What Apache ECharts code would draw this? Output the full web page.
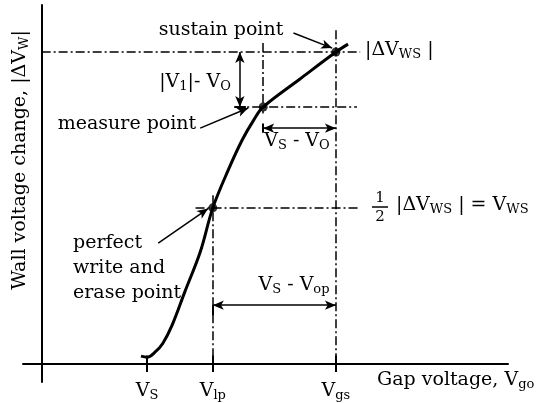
<!DOCTYPE html>
<html>
<head>
<meta charset="utf-8">
<script src="https://cdn.jsdelivr.net/npm/echarts@6/dist/echarts.min.js"></script>
<style>
  html, body { margin: 0; background: #fff; }
  #chart { width: 551px; height: 403px; }
</style>
</head>
<body>
<div id="chart"></div>
<script>
// wall voltage change vs gap voltage (arbitrary units)
const gapVoltage  = [21.3, 22.6, 24.3, 26.0, 28.0, 30.7, 34.0, 36.7, 40.0, 43.0, 45.5, 47.5, 55.4, 63.1, 65.7];
const wallVoltage = [2.2, 1.9, 3.3, 5.8, 10.9, 20.1, 31.2, 43.5, 54.0, 62.4, 68.0, 71.6, 79.4, 86.9, 89.1];

// marked points: sustain, measure, perfect write/erase
const pointGap  = [63.1, 47.5, 36.7];
const pointWall = [86.9, 71.6, 43.5];

// x axis ticks (subscripts of V)
const tickSubs   = ['S', 'lp', 'gs'];
const tickValues = [22.6, 36.7, 63.1];

const font = 'DejaVu Serif';
const rich = {
    n: { fontFamily: font, fontSize: 19, lineHeight: 22, color: '#000' },
    s: { fontFamily: font, fontSize: 13, lineHeight: 22, padding: [10, 0, 0, 0], color: '#000' }
};

const [xS, xM, xP] = pointGap;
const [yS, yM, yP] = pointWall;
const seg = (a, b) => [{ coord: a }, { coord: b }];

// dash-dot guide lines
const guides = [
    seg([0, yS], [68.3, yS]),
    seg([41.5, yM], [67.6, yM]),
    seg([33.0, yP], [68.3, yP]),
    seg([xM, 89.4], [xM, 69.8]),
    seg([xS, 93.0], [xS, 0]),
    seg([xP, 47.0], [xP, 0])
];
// dimension arrows
const dims = [
    seg([42.5, yS], [42.5, yM]),
    seg([xM, 65.7], [xS, 65.7]),
    seg([xP, 16.4], [xS, 16.4])
];
// small end ticks of dimension arrows + upper half of axis ticks
const endTicks = [
    seg([41.3, yM], [43.8, yM]),
    seg([xM, 64.4], [xM, 67.0]),
    seg([xP, 16.4], [xP, 13.6])
].concat(tickValues.map(v => seg([v, 0], [v, 2.4])));
// pointer arrows from labels to points
const pointers = [
    seg([54.0, 92.2], [62.3, 88.0]),
    seg([34.0, 65.7], [44.3, 71.3]),
    seg([25.0, 33.7], [35.7, 43.3])
];

const markSeries = (data, symbol, type, width) => ({
    type: 'line',
    data: [],
    silent: true,
    markLine: {
        silent: true,
        animation: false,
        symbol: symbol,
        symbolSize: [7, 11],
        label: { show: false },
        emphasis: { disabled: true },
        lineStyle: { color: '#000', width: width, type: type },
        data: data
    }
});

const txt = (x, y, text, align, extra) => Object.assign({
    type: 'text',
    x: x, y: y,
    silent: true,
    style: {
        text: text, rich: rich,
        align: align || 'left', verticalAlign: 'middle',
        fill: '#000', font: '19px "' + font + '"'
    }
}, extra || {});

const small = (x, y, t) => ({
    type: 'text', x: x, y: y, silent: true,
    style: { text: t, fontFamily: font, fontSize: 15, fill: '#000', align: 'center', verticalAlign: 'middle' }
});

const chart = echarts.init(document.getElementById('chart'));
chart.setOption({
    animation: false,
    backgroundColor: '#fff',
    grid: { left: 23, right: 43, top: 5, bottom: 21, containLabel: false, outerBoundsMode: 'none' },
    xAxis: {
        type: 'value', min: -4, max: 100,
        axisLine: { onZero: true, lineStyle: { color: '#000', width: 2 } },
        axisTick: { show: true, customValues: tickValues, length: 8, lineStyle: { color: '#000', width: 2 } },
        axisLabel: {
            show: true, customValues: tickValues, margin: -2,
            formatter: v => '{n|V}{s|' + tickSubs[tickValues.indexOf(v)] + '}',
            rich: rich
        },
        splitLine: { show: false }
    },
    yAxis: {
        type: 'value', min: -5, max: 100,
        axisLine: { show: true, onZero: true, lineStyle: { color: '#000', width: 2 } },
        axisTick: { show: false },
        axisLabel: { show: false },
        splitLine: { show: false }
    },
    series: [
        {
            type: 'line',
            data: gapVoltage.map((x, i) => [x, wallVoltage[i]]),
            smooth: 0.35,
            symbol: 'none',
            silent: true,
            lineStyle: { color: '#000', width: 3 }
        },
        {
            type: 'scatter',
            data: pointGap.map((x, i) => [x, pointWall[i]]),
            symbolSize: 9,
            silent: true,
            itemStyle: { color: '#000' }
        },
        markSeries(guides, 'none', [9, 3, 2, 3], 1.5),
        markSeries(dims, ['arrow', 'arrow'], 'solid', 1.5),
        markSeries(endTicks, 'none', 'solid', 2),
        markSeries(pointers, ['none', 'arrow'], 'solid', 1.5)
    ],
    graphic: [
        txt(221, 30, '{n|sustain point}', 'center'),
        txt(127, 124, '{n|measure point}', 'center'),
        txt(195, 82, '{n|\u007CV}{s|1}{n|\u007C- V}{s|O}', 'center'),
        txt(297, 141, '{n|V}{s|S}{n| - V}{s|O}', 'center'),
        txt(365, 50, '{n|\u007C\u0394V}{s|WS}{n| \u007C}'),
        small(380, 198, '1'),
        small(380, 217, '2'),
        { type: 'line', silent: true, shape: { x1: 372, y1: 207, x2: 388, y2: 207 }, style: { stroke: '#000', lineWidth: 1.5 } },
        txt(396, 205, '{n|\u007C\u0394V}{s|WS}{n| \u007C = V}{s|WS}'),
        txt(73, 243, '{n|perfect}'),
        txt(73, 268, '{n|write and}'),
        txt(73, 293, '{n|erase point}'),
        txt(294, 285, '{n|V}{s|S}{n| - V}{s|op}', 'center'),
        txt(377, 380, '{n|Gap voltage, V}{s|go}'),
        txt(20, 160, '{n|Wall voltage change, \u007C\u0394V}{s|W}{n|\u007C}', 'center', { rotation: Math.PI / 2 })
    ]
});
</script>
</body>
</html>
